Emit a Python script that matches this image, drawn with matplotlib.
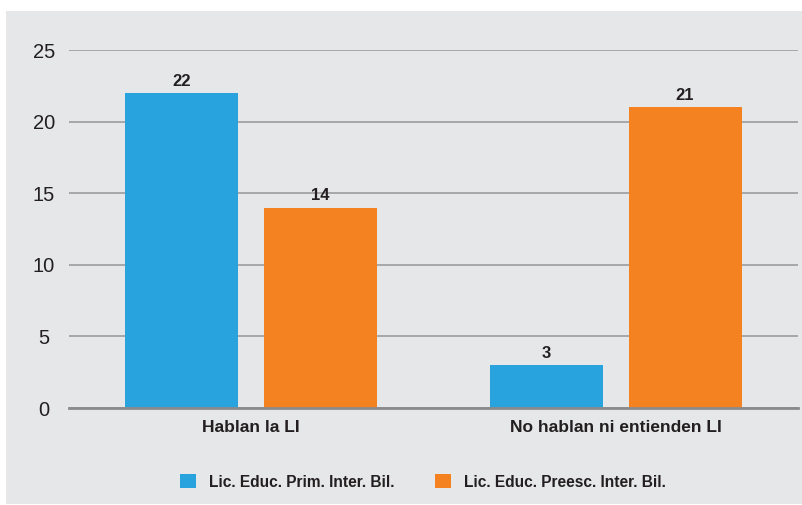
import matplotlib
matplotlib.use('Agg')

import numpy as np
import matplotlib.pyplot as plt
from matplotlib.patches import Rectangle, Patch

categories = ["Hablan la LI", "No hablan ni entienden LI"]
series_names = ["Lic. Educ. Prim. Inter. Bil.", "Lic. Educ. Preesc. Inter. Bil."]
prim_values = [22, 3]
preesc_values = [14, 21]
yticks = [0, 5, 10, 15, 20, 25]

BLUE = "#29a3dd"
ORANGE = "#f58220"
BG = "#e6e7e8"
TXT = "#231f20"
FONT = ["Liberation Sans Narrow", "Liberation Sans", "DejaVu Sans"]

W, H = 802, 505
fig = plt.figure(figsize=(W / 100, H / 100), dpi=100)
fig.patch.set_facecolor("white")

# gray panel behind everything
fig.patches.append(Rectangle((6 / W, 1 - 504 / H), (802 - 6) / W, (504 - 11) / H,
                             transform=fig.transFigure, facecolor=BG,
                             edgecolor="none", zorder=-5))

ax = fig.add_axes([69 / W, 1 - 408 / H, (798 - 69) / W, (408 - 50) / H])
ax.set_facecolor("none")
ax.set_zorder(1)

x = np.arange(len(categories))
width = 0.31
offset = 0.19

b1 = ax.bar(x - offset, prim_values, width, color=BLUE, zorder=3)
b2 = ax.bar(x + offset, preesc_values, width, color=ORANGE, zorder=3)

for bars in (b1, b2):
    for rect in bars:
        h = rect.get_height()
        ax.annotate(str(h), (rect.get_x() + rect.get_width() / 2, h),
                    xytext=(0, 3), textcoords="offset points",
                    ha="center", va="bottom", fontsize=12,
                    fontweight="bold", color=TXT, family=FONT)

ax.set_xlim(-0.5, 1.5)
ax.set_ylim(0, 25)
ax.set_yticks(yticks)
ax.set_yticklabels([str(t) for t in yticks], family=FONT, fontsize=14.5,
                   color=TXT, ha="center")
ax.tick_params(axis="y", length=0, pad=18)
ax.set_xticks(x)
ax.set_xticklabels(categories, family=FONT, fontsize=12.5, fontweight="bold",
                   color=TXT)
ax.tick_params(axis="x", length=0, pad=9)

ax.yaxis.grid(True, color="#a7a7a9", linewidth=1.4, zorder=1)
ax.set_axisbelow(True)
for s in ("top", "right", "left"):
    ax.spines[s].set_visible(False)
ax.spines["bottom"].set_color("#8a8a8c")
ax.spines["bottom"].set_linewidth(2)
ax.spines["bottom"].set_zorder(4)

handles = [Patch(facecolor=BLUE), Patch(facecolor=ORANGE)]
leg = fig.legend(handles, series_names, loc="center",
                 bbox_to_anchor=(423 / W, 1 - 482 / H), ncol=2, frameon=False,
                 handlelength=1.0, handleheight=1.0, handletextpad=0.85,
                 columnspacing=2.6,
                 prop={"family": FONT, "size": 11.2, "weight": "bold"})
for t in leg.get_texts():
    t.set_color(TXT)

fig.savefig("out.png", dpi=100)
